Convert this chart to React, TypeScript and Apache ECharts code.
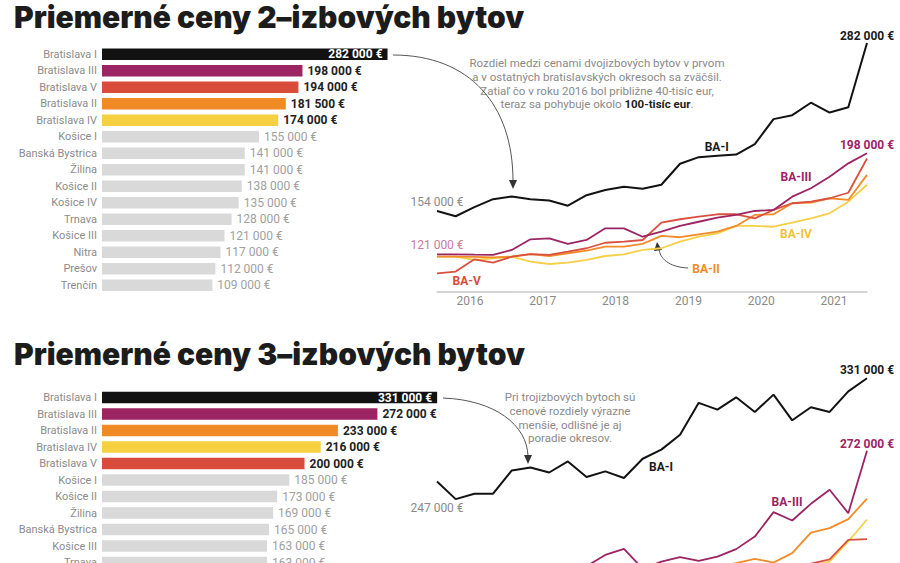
import React, { useEffect, useRef } from "react";
import * as echarts from "echarts";

const title2 = "Priemerné ceny 2–izbových bytov";
const title3 = "Priemerné ceny 3–izbových bytov";

const districts2 = ["Bratislava I", "Bratislava III", "Bratislava V", "Bratislava II", "Bratislava IV", "Košice I", "Banská Bystrica", "Žilina", "Košice II", "Košice IV", "Trnava", "Košice III", "Nitra", "Prešov", "Trenčín"];
const prices2 = [282000, 198000, 194000, 181500, 174000, 155000, 141000, 141000, 138000, 135000, 128000, 121000, 117000, 112000, 109000];

const districts3 = ["Bratislava I", "Bratislava III", "Bratislava II", "Bratislava IV", "Bratislava V", "Košice I", "Košice II", "Žilina", "Banská Bystrica", "Košice III", "Trnava"];
const prices3 = [331000, 272000, 233000, 216000, 200000, 185000, 173000, 169000, 165000, 163000, 163000];

const quarters = ["Q1 2016", "Q2 2016", "Q3 2016", "Q4 2016", "Q1 2017", "Q2 2017", "Q3 2017", "Q4 2017", "Q1 2018", "Q2 2018", "Q3 2018", "Q4 2018", "Q1 2019", "Q2 2019", "Q3 2019", "Q4 2019", "Q1 2020", "Q2 2020", "Q3 2020", "Q4 2020", "Q1 2021", "Q2 2021", "Q3 2021", "Q4 2021"];
const yearTicks = [2016, 2017, 2018, 2019, 2020, 2021];

// 2-room flats
const ba1_2 = [154000, 150000, 157000, 163000, 165000, 163000, 162000, 158000, 166000, 170000, 172500, 171000, 174000, 190000, 195000, 196000, 197000, 205000, 224000, 227000, 236500, 229000, 233000, 282000];
const ba3_2 = [121000, 121000, 120700, 120500, 124300, 132400, 133200, 128900, 131900, 140800, 140800, 134400, 138200, 142600, 145800, 148900, 151000, 154000, 154800, 164900, 171300, 180100, 190300, 198000];
const ba5_2 = [106500, 107800, 117200, 114600, 119200, 121200, 120500, 123000, 125600, 129800, 130600, 131900, 145100, 147700, 149700, 151500, 151500, 148400, 154800, 159900, 161100, 163700, 167900, 194000];
const ba2_2 = [119200, 119200, 119000, 118700, 119200, 121200, 119700, 121800, 123800, 126800, 126800, 128900, 135000, 134000, 136200, 138200, 142600, 151000, 151500, 159900, 160300, 163700, 162400, 181500];
const ba4_2 = [119200, 119200, 116700, 118000, 119200, 115400, 113600, 114600, 116700, 119700, 121000, 124300, 125600, 130600, 134400, 137000, 142600, 142600, 142000, 145100, 148400, 152200, 161100, 174000];

// 3-room flats
const ba1_3 = [247000, 232600, 237000, 237000, 256000, 258400, 254300, 263300, 250600, 255200, 249800, 265500, 272900, 285100, 311000, 305500, 315500, 303600, 317700, 296800, 307400, 303600, 320400, 331000];
const ba3_3 = [168000, 170000, 169000, 172000, 171000, 175000, 178000, 176000, 178000, 187200, 192100, 176000, 181700, 185300, 182300, 185800, 191900, 202100, 222000, 215200, 228800, 240200, 221200, 272000];
const ba2_3 = [160000, 162000, 163000, 163000, 165000, 166000, 167000, 168000, 168000, 170000, 171000, 172000, 173000, 174000, 175000, 177000, 180500, 184000, 181000, 188600, 205400, 209000, 216300, 233000];
const ba4_3 = [150000, 151000, 152000, 151000, 153000, 154000, 156000, 157000, 158000, 160000, 161000, 162000, 163000, 165000, 166000, 168000, 170000, 172000, 174000, 176000, 178000, 181700, 198100, 216000];
const ba5_3 = [152000, 153000, 155000, 154000, 156000, 157000, 158000, 160000, 161000, 162000, 164000, 165000, 166000, 167000, 169000, 170000, 172000, 174000, 176000, 178000, 180000, 183500, 199400, 200000];

const note2 = "Rozdiel medzi cenami dvojizbových bytov v prvom\na v ostatných bratislavských okresoch sa zväčšil.\nZatiaľ čo v roku 2016 bol približne 40-tisíc eur,\nteraz sa pohybuje okolo {b|100-tisíc eur}.";
const note3 = "Pri trojizbových bytoch sú\ncenové rozdiely výrazne\nmenšie, odlišné je aj\nporadie okresov.";

const COL = {
  ba1: "#121212",
  ba2: "#f08a24",
  ba3: "#9c2463",
  ba4: "#f5d040",
  ba5: "#d94c3c",
  grey: "#d9d9d9",
};
const districtColor: Record<string, string> = {
  "Bratislava I": COL.ba1,
  "Bratislava II": COL.ba2,
  "Bratislava III": COL.ba3,
  "Bratislava IV": COL.ba4,
  "Bratislava V": COL.ba5,
};

const FONT = "Roboto, 'Noto Sans', sans-serif";
const fmt = (v: number) => String(v).replace(/\B(?=(\d{3})+(?!\d))/g, " ") + " €";

function barData(names: string[], vals: number[]) {
  return vals.map((v, i) => {
    const c = districtColor[names[i]] || COL.grey;
    const isBa = !!districtColor[names[i]];
    return {
      value: v,
      itemStyle: { color: c },
      label:
        i === 0
          ? { position: "insideRight", color: "#ffffff", fontWeight: "bold", distance: 5 }
          : isBa
          ? { color: "#222222", fontWeight: "bold" }
          : { color: "#a0a0a0" },
    };
  });
}

function lineData(vals: number[], first?: any, last?: any) {
  return vals.map((v, i) => {
    if (i === 0 && first) return { value: v, label: { show: true, ...first } };
    if (i === vals.length - 1 && last) return { value: v, label: { show: true, ...last } };
    return v;
  });
}

function line(name: string, vals: number[], color: string, xi: number, yi: number, width: number, z: number, first?: any, last?: any) {
  return {
    type: "line",
    name,
    xAxisIndex: xi,
    yAxisIndex: yi,
    data: lineData(vals, first, last),
    symbol: "circle",
    symbolSize: 0,
    showSymbol: true,
    clip: false,
    z,
    lineStyle: { color, width },
    itemStyle: { color },
    label: { show: false, fontFamily: FONT, fontSize: 12 },
    emphasis: { disabled: true },
  };
}

function txt(text: string, x: number, y: number, color: string, bold = true, size = 12) {
  return {
    type: "text",
    x,
    y,
    silent: true,
    style: {
      text,
      fill: color,
      align: "center",
      verticalAlign: "middle",
      fontFamily: FONT,
      fontWeight: bold ? "bold" : "normal",
      fontSize: size,
    },
  };
}

function arrowHead(points: number[][]) {
  return { type: "polygon", silent: true, shape: { points }, style: { fill: "#333333" } };
}

function curve(x1: number, y1: number, cpx1: number, cpy1: number, cpx2: number, cpy2: number, x2: number, y2: number) {
  return {
    type: "bezierCurve",
    silent: true,
    shape: { x1, y1, cpx1, cpy1, cpx2, cpy2, x2, y2 },
    style: { stroke: "#555555", lineWidth: 1, fill: "none" },
  };
}

export default function App() {
  const ref = useRef<HTMLDivElement>(null);
  useEffect(() => {
    if (!ref.current) return;
    const chart = echarts.init(ref.current, null, { renderer: "svg" });
    const barLabel = { show: true, position: "right", distance: 5, fontFamily: FONT, fontSize: 12, formatter: (p: any) => fmt(p.value) };
    const catAxisLabel = { color: "#8c8c8c", fontFamily: FONT, fontSize: 11, margin: 5 };
    const yearAxis = (gi: number, showLabels: boolean) => ({
      type: "value",
      gridIndex: gi,
      min: 2015.5467,
      max: 2021.4533,
      position: "bottom",
      axisLine: { show: false },
      axisTick: { show: false },
      splitLine: { show: false },
      axisLabel: { show: showLabels, customValues: yearTicks, formatter: (v: number) => String(v), color: "#8a8a8a", fontFamily: FONT, fontSize: 12, margin: 3 },
    });
    const quarterAxis = (gi: number) => ({
      type: "category",
      gridIndex: gi,
      data: quarters,
      boundaryGap: false,
      position: "bottom",
      axisLine: { show: true, lineStyle: { color: "#c8c8c8", width: 1.5 } },
      axisTick: { show: false },
      axisLabel: { show: false },
      splitLine: { show: false },
    });
    const option: any = {
      animation: false,
      backgroundColor: "#ffffff",
      grid: [
        { left: 102, top: 46, width: 405, height: 247.5 },
        { left: 437, top: 43, width: 430, height: 248.7 },
        { left: 102, top: 389.25, width: 405, height: 181.5 },
        { left: 437, top: 378.3, width: 430, height: 210 },
      ],
      xAxis: [
        { type: "value", gridIndex: 0, min: 0, max: 400000, show: false },
        quarterAxis(1),
        yearAxis(1, true),
        { type: "value", gridIndex: 2, min: 0, max: 400000, show: false },
        quarterAxis(3),
        yearAxis(3, false),
      ],
      yAxis: [
        { type: "category", gridIndex: 0, data: districts2, inverse: true, axisLine: { show: false }, axisTick: { show: false }, axisLabel: catAxisLabel },
        { type: "value", gridIndex: 1, min: 92500, max: 282000, show: false },
        { type: "category", gridIndex: 2, data: districts3, inverse: true, axisLine: { show: false }, axisTick: { show: false }, axisLabel: catAxisLabel },
        { type: "value", gridIndex: 3, min: 160000, max: 331000, show: false },
      ],
      series: [
        { type: "bar", xAxisIndex: 0, yAxisIndex: 0, data: barData(districts2, prices2), barWidth: 11.5, label: barLabel, emphasis: { disabled: true } },
        { type: "bar", xAxisIndex: 3, yAxisIndex: 2, data: barData(districts3, prices3), barWidth: 11.5, label: barLabel, emphasis: { disabled: true } },
        line("BA-IV", ba4_2, "#f6cf48", 1, 1, 1.8, 2),
        line("BA-II", ba2_2, "#f28b2a", 1, 1, 1.8, 3),
        line("BA-V", ba5_2, "#d9503f", 1, 1, 1.8, 4),
        line("BA-III", ba3_2, COL.ba3, 1, 1, 1.8, 5,
          { position: "top", distance: 3, color: "#c77aa3", formatter: (p: any) => fmt(p.value) },
          { position: "top", distance: 2, color: COL.ba3, fontWeight: "bold", formatter: (p: any) => fmt(p.value) }),
        line("BA-I", ba1_2, COL.ba1, 1, 1, 2, 6,
          { position: "top", distance: 3, color: "#8a8a8a", formatter: (p: any) => fmt(p.value) },
          { position: "top", distance: 1, color: "#1a1a1a", fontWeight: "bold", formatter: (p: any) => fmt(p.value) }),
        line("BA-IV", ba4_3, "#f6cf48", 4, 3, 1.8, 2),
        line("BA-II", ba2_3, "#f28b2a", 4, 3, 1.8, 3),
        line("BA-V", ba5_3, "#d9503f", 4, 3, 1.8, 4),
        line("BA-III", ba3_3, COL.ba3, 4, 3, 1.8, 5, undefined,
          { position: "top", distance: 1, color: COL.ba3, fontWeight: "bold", formatter: (p: any) => fmt(p.value) }),
        line("BA-I", ba1_3, COL.ba1, 4, 3, 2, 6,
          { position: "bottom", distance: 21, color: "#8a8a8a", formatter: (p: any) => fmt(p.value) },
          { position: "top", distance: 2, color: "#1a1a1a", fontWeight: "bold", formatter: (p: any) => fmt(p.value) }),
      ],
      graphic: [
        {
          type: "text", x: 14, y: 17, silent: true,
          style: { text: title2, fill: "#1c1c1c", fontFamily: "Inter, Roboto, sans-serif", fontWeight: 900, fontSize: 30, verticalAlign: "middle", align: "left" },
        },
        {
          type: "text", x: 14, y: 354, silent: true,
          style: { text: title3, fill: "#1c1c1c", fontFamily: "Inter, Roboto, sans-serif", fontWeight: 900, fontSize: 30, verticalAlign: "middle", align: "left" },
        },
        {
          type: "text", x: 597, y: 56.5, silent: true,
          style: {
            text: note2, fill: "#8a8a8a", fontFamily: FONT, fontSize: 11.5, lineHeight: 13.7, align: "center", verticalAlign: "top",
            rich: { b: { fill: "#222222", fontWeight: "bold", fontFamily: FONT, fontSize: 11.5, lineHeight: 13.7 } },
          },
        },
        {
          type: "text", x: 570, y: 390.5, silent: true,
          style: { text: note3, fill: "#8a8a8a", fontFamily: FONT, fontSize: 11.5, lineHeight: 13.7, align: "center", verticalAlign: "top" },
        },
        txt("BA-I", 716.7, 147.3, "#1a1a1a"),
        txt("BA-III", 796, 176.7, COL.ba3),
        txt("BA-IV", 796, 234, "#f0c23a"),
        txt("BA-II", 706, 269, "#f08a24"),
        txt("BA-V", 466.7, 280.7, "#d94c3c"),
        txt("BA-I", 661, 466.7, "#1a1a1a"),
        txt("BA-III", 787, 501.7, COL.ba3),
        curve(393, 55, 470, 55, 513, 105, 513, 181),
        arrowHead([[513, 189], [509, 180], [517, 180]]),
        curve(688, 268, 668, 267, 660, 258, 659, 249),
        arrowHead([[657, 242], [654, 251], [662, 250]]),
        curve(443, 398, 495, 400, 527, 425, 528, 456),
        arrowHead([[528, 464], [524, 455], [532, 455]]),
      ],
    };
    chart.setOption(option);
    return () => chart.dispose();
  }, []);
  return (
    <div style={{ position: "fixed", left: 0, top: 0, width: 900, height: 563, overflow: "hidden", background: "#fff" }}>
      <div ref={ref} style={{ width: 900, height: 660 }} />
    </div>
  );
}
